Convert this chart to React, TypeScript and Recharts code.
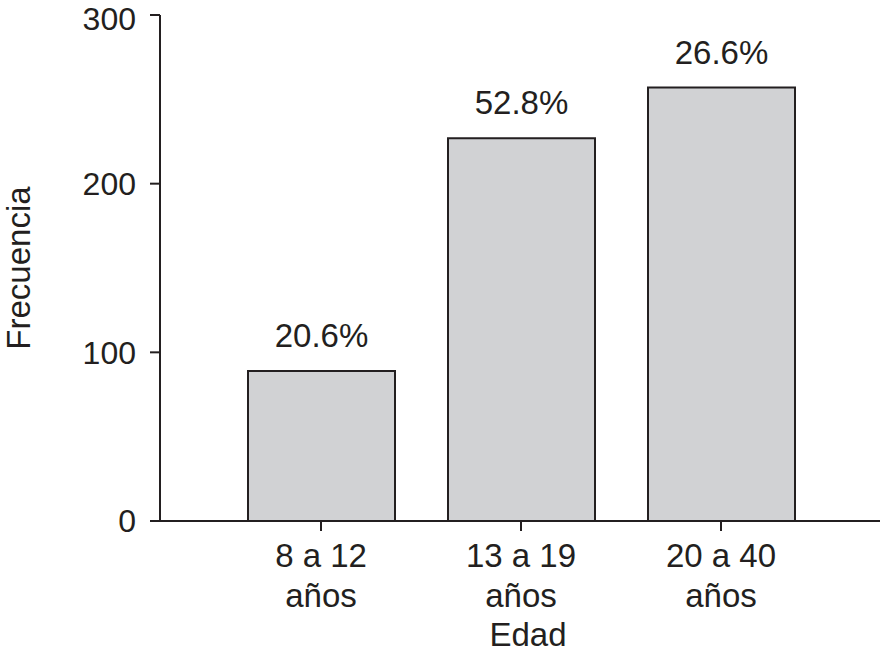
import { Bar, BarChart, XAxis, YAxis, LabelList, Label } from "recharts"

const categories = ["8 a 12\naños", "13 a 19\naños", "20 a 40\naños"]
const frecuencia = [89, 227, 257]
const porcentajes = ["20.6%", "52.8%", "26.6%"]
const yTicks = [0, 100, 200, 300]

const data = categories.map((name, i) => ({
  name,
  value: frecuencia[i],
  pct: porcentajes[i],
}))

const ink = "#231f20"
const font = "'Liberation Sans', Arial, Helvetica, sans-serif"
const fs = 33

const TwoLineTick = (props: any) => {
  const { x, y, payload } = props
  const lines = String(payload.value).split("\n")
  return (
    <text x={x} y={y} textAnchor="middle" fill={ink} fontSize={fs} fontFamily={font}>
      {lines.map((line, i) => (
        <tspan key={i} x={x} y={y + 36 + i * 40}>
          {line}
        </tspan>
      ))}
    </text>
  )
}

export default function App() {
  return (
    <div style={{ position: "absolute", left: 0, top: 0, background: "#fff" }}>
      <BarChart
        width={881}
        height={653}
        data={data}
        margin={{ top: 15, right: 1, bottom: 0, left: 0 }}
      >
        <XAxis
          dataKey="name"
          height={132}
          padding={{ left: 61, right: 59 }}
          stroke={ink}
          strokeWidth={2}
          tickSize={10}
          tickMargin={0}
          tick={<TwoLineTick />}
          interval={0}
        >
          <Label
            content={(p: any) => {
              const vb = p.viewBox
              return (
                <text
                  x={vb.x + vb.width / 2 + 8}
                  y={vb.y + 125}
                  textAnchor="middle"
                  fill={ink}
                  fontSize={fs}
                  fontFamily={font}
                >
                  Edad
                </text>
              )
            }}
          />
        </XAxis>
        <YAxis
          width={160}
          domain={[0, 300]}
          ticks={yTicks}
          stroke={ink}
          strokeWidth={2}
          tickSize={10}
          tickMargin={14}
          tick={{ fill: ink, fontSize: fs - 1, fontFamily: font }}
        >
          <Label
            content={(p: any) => {
              const vb = p.viewBox
              const cx = vb.x + 30
              const cy = vb.y + vb.height / 2
              return (
                <text
                  x={cx}
                  y={cy}
                  textAnchor="middle"
                  transform={`rotate(-90, ${cx}, ${cy})`}
                  fill={ink}
                  fontSize={fs}
                  fontFamily={font}
                >
                  Frecuencia
                </text>
              )
            }}
          />
        </YAxis>
        <Bar
          dataKey="value"
          fill="#d1d2d4"
          stroke={ink}
          strokeWidth={2}
          barSize={147}
          isAnimationActive={false}
        >
          <LabelList
            dataKey="pct"
            position="top"
            offset={24}
            fill={ink}
            fontSize={fs}
            fontFamily={font}
          />
        </Bar>
      </BarChart>
    </div>
  )
}
